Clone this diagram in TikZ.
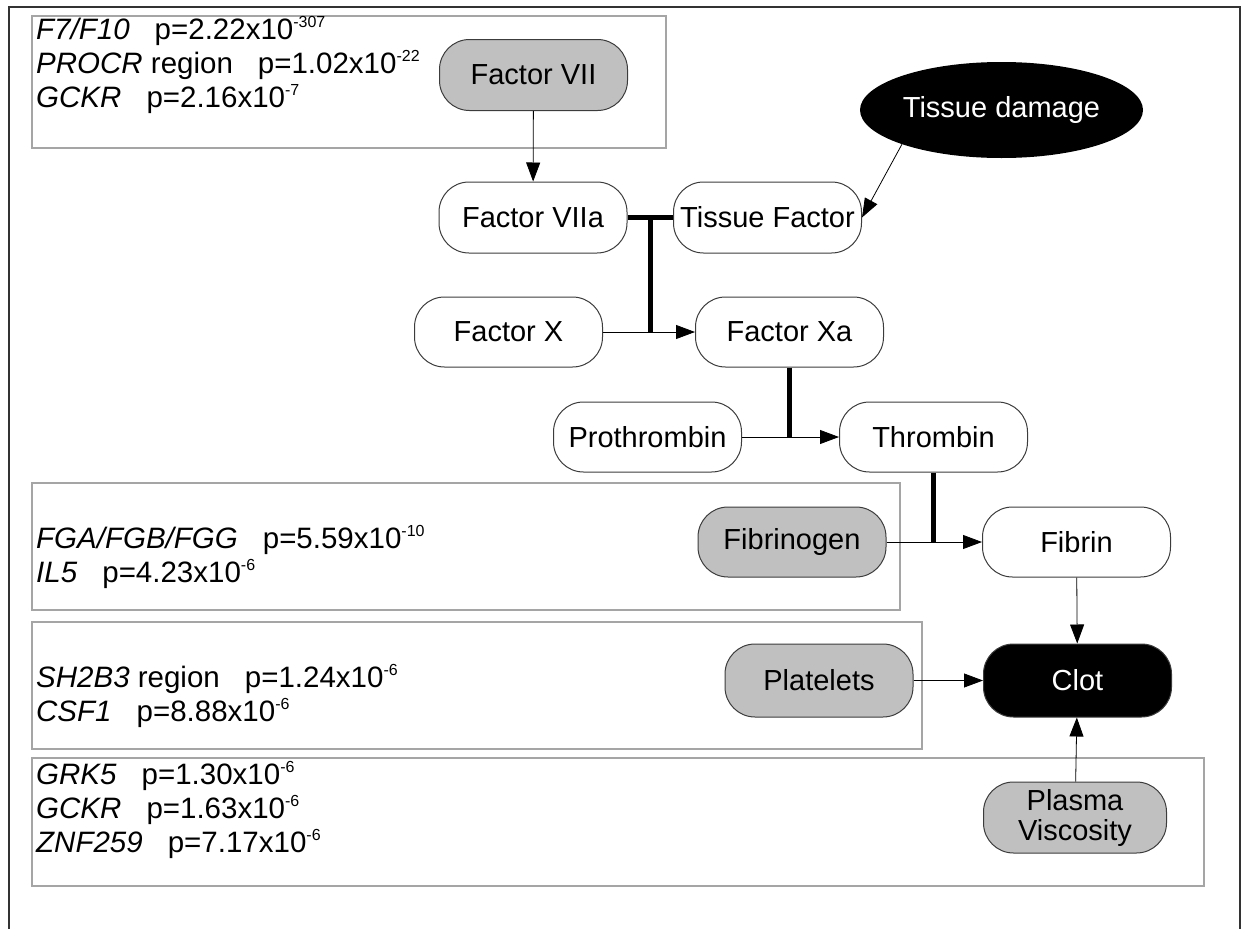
\documentclass[tikz,border=0pt]{standalone}
\usepackage{fontspec}
\setmainfont{Liberation Sans}
\usetikzlibrary{arrows.meta,shapes.geometric,calc}
\definecolor{nodegray}{RGB}{192,192,192}
\definecolor{boxgray}{RGB}{165,165,165}
\definecolor{edgegray}{RGB}{60,60,60}
\newcommand\sups[1]{\raisebox{0.40em}{\fontsize{16}{16}\selectfont #1}}
\newcommand\gap{\hspace{0.85em}}
\tikzset{
  proc/.style={draw=edgegray, line width=1pt, rounded corners=30pt, minimum width=188pt,
    minimum height=71pt, fill=white, inner sep=0pt, font=\fontsize{29}{30}\selectfont},
  grayproc/.style={proc, fill=nodegray},
  blackproc/.style={proc, fill=black, text=white},
  annbox/.style={draw=boxgray, line width=1.5pt, anchor=north west, inner sep=0pt},
  anntext/.style={anchor=west, inner sep=0pt, align=left, font=\fontsize{29.5}{34}\selectfont},
  arr/.style={line width=0.8pt, -{Triangle[length=19pt,width=14pt]}},
  link/.style={line width=5pt},
}
\begin{document}
\begin{tikzpicture}[x=1pt,y=-1pt]
\useasboundingbox (0,0) rectangle (1248,929);
% outer frame
\draw[line width=2pt, black!80] (9,929) -- (9,7) -- (1240,7) -- (1240,929);

% annotation boxes
\node[annbox, minimum width=634pt, minimum height=132pt] (b1) at (31,15) {};
\node[annbox, minimum width=868pt, minimum height=127pt] (b2) at (31,482) {};
\node[annbox, minimum width=890pt, minimum height=127pt] (b3) at (31,621) {};
\node[annbox, minimum width=1172pt, minimum height=128pt] (b4) at (31,757) {};

% annotation texts
\node[anntext] (t1) at (36,65) {\textit{F7/F10}\gap p=2.22x10\sups{-307}\\
  \textit{PROCR} region\gap p=1.02x10\sups{-22}\\
  \textit{GCKR}\gap p=2.16x10\sups{-7}};
\node[anntext] (t2) at (36,557) {\textit{FGA/FGB/FGG}\gap p=5.59x10\sups{-10}\\
  \textit{IL5}\gap p=4.23x10\sups{-6}};
\node[anntext] (t3) at (36,696) {\textit{SH2B3} region\gap p=1.24x10\sups{-6}\\
  \textit{CSF1}\gap p=8.88x10\sups{-6}};
\node[anntext] (t4) at (36,810) {\textit{GRK5}\gap p=1.30x10\sups{-6}\\
  \textit{GCKR}\gap p=1.63x10\sups{-6}\\
  \textit{ZNF259}\gap p=7.17x10\sups{-6}};

% process nodes
\node[grayproc] (f7) at (533.5,75) {Factor VII};
\node[ellipse, fill=black, text=white, minimum width=283pt, minimum height=96pt, inner sep=0pt,
  font=\fontsize{29}{30}\selectfont] (td) at (1001.5,110) {Tissue damage};
\node[proc] (f7a) at (533,217.5) {Factor VIIa};
\node[proc] (tf) at (767.5,217.5) {Tissue Factor};
\node[proc, minimum height=70pt] (fx) at (508.5,332) {Factor X};
\node[proc, minimum height=70pt] (fxa) at (789.5,332) {Factor Xa};
\node[proc, minimum height=70pt] (pro) at (647.5,437) {Prothrombin};
\node[proc, minimum height=70pt] (thr) at (933.5,437) {Thrombin};
\node[grayproc, minimum height=70pt] (fbg) at (792,542) {Fibrinogen};
\node[proc, minimum height=70pt] (fib) at (1076.5,542) {Fibrin};
\node[grayproc, minimum height=73pt] (plt) at (819,680.5) {Platelets};
\node[blackproc, minimum height=73pt] (clot) at (1077.5,680.5) {Clot};
\node[grayproc, minimum width=183pt, align=center, font=\fontsize{29}{30}\selectfont] (pv) at (1075,817.5) {Plasma\\Viscosity};

% connectors
\draw[arr] (f7) -- (f7a);
\draw[arr] (td.199) -- (tf.east);
\draw[link] (f7a.east) -- (tf.west);
\coordinate (j1) at ($(f7a.east)!0.5!(tf.west)$);
\draw[arr] (fx.east) -- (fxa.west);
\draw[link] (j1) -- (j1 |- fx.east);
\draw[arr] (pro.east) -- (thr.west);
\draw[link] (fxa.south) -- (fxa.south |- pro.east);
\draw[arr] (fbg.east) -- (fib.west);
\draw[link] (thr.south) -- (thr.south |- fbg.east);
\draw[arr] (fib) -- (clot);
\draw[arr] (plt) -- (clot);
\draw[arr] (pv) -- (clot);
\end{tikzpicture}
\end{document}
